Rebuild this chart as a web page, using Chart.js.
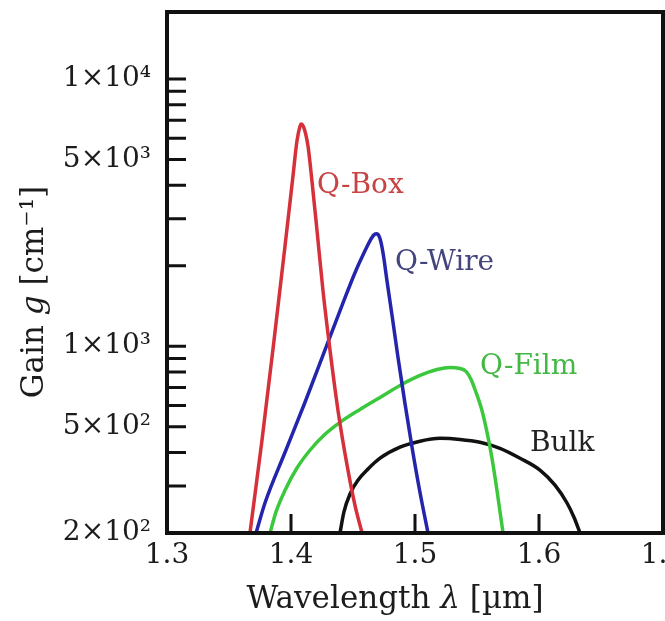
<!DOCTYPE html>
<html>
<head>
<meta charset="utf-8">
<script src="https://cdn.jsdelivr.net/npm/chart.js@4.4.0/dist/chart.umd.min.js"></script>
<style>
  html, body { margin: 0; background: #fff; }
</style>
</head>
<body>
<canvas id="gainChart" width="665" height="621"></canvas>
<script>
// tick values and labels
const xTicks = [1.3, 1.4, 1.5, 1.6, 1.7];
const yTicks = [200, 300, 400, 500, 600, 700, 800, 900, 1000, 2000, 3000, 4000, 5000, 6000, 7000, 8000, 9000, 10000];
const yTickLabels = { 200: '2×10²', 500: '5×10²', 1000: '1×10³', 5000: '5×10³', 10000: '1×10⁴' };

// curves
const boxX = [1.3669, 1.3766, 1.3863, 1.3952, 1.4016, 1.4048, 1.4073, 1.4081, 1.4105, 1.4137, 1.4169, 1.421, 1.4258, 1.4315, 1.4379, 1.4452, 1.4516, 1.4573];
const boxY = [200, 445, 1050, 2375, 4334, 5853, 6660, 6776, 6546, 5608, 4152, 2702, 1613, 963, 575, 359, 254, 200];

const wireX = [1.3718, 1.379, 1.3952, 1.4113, 1.4266, 1.4411, 1.4516, 1.4589, 1.4637, 1.4669, 1.4694, 1.4718, 1.4742, 1.4774, 1.4815, 1.4863, 1.4919, 1.4976, 1.504, 1.5105];
const wireY = [200, 259, 401, 617, 947, 1418, 1883, 2236, 2480, 2610, 2633, 2522, 2236, 1758, 1302, 907, 611, 419, 284, 200];

const filmX = [1.3831, 1.3879, 1.3952, 1.4048, 1.4153, 1.4274, 1.4395, 1.4556, 1.4718, 1.4879, 1.504, 1.5177, 1.5282, 1.5363, 1.5411, 1.5452, 1.5492, 1.554, 1.5581, 1.5621, 1.5661, 1.571];
const filmY = [200, 240, 289, 350, 408, 468, 519, 580, 643, 713, 777, 818, 833, 825, 805, 751, 672, 575, 476, 381, 289, 200];

const bulkX = [1.4395, 1.4427, 1.4476, 1.454, 1.4621, 1.4718, 1.4879, 1.504, 1.5202, 1.5363, 1.5524, 1.5685, 1.5847, 1.6008, 1.6129, 1.6226, 1.6282, 1.6331];
const bulkY = [200, 240, 280, 315, 347, 381, 419, 441, 452, 448, 437, 415, 381, 344, 302, 259, 229, 200];

const seriesNames = ['Q-Box', 'Q-Wire', 'Q-Film', 'Bulk'];
const labelX = [1.421, 1.4839, 1.5524, 1.5927];
const labelY = [3978, 2052, 840, 433];

const lineColors = ['#d6303a', '#2424ac', '#3cc83c', '#111111'];
const textColors = ['#c84444', '#45457e', '#44b844', '#222222'];
const serif = 'DejaVu Serif';

function toPoints(xs, ys) { return xs.map((x, i) => ({ x: x, y: ys[i] })); }

function drawMixed(ctx, parts, size) {
  // parts: [text, italic]; draws centred on the current origin
  let total = 0;
  parts.forEach(p => { ctx.font = (p[1] ? 'italic ' : '') + size + 'px "' + serif + '"'; total += ctx.measureText(p[0]).width; });
  let x = -total / 2;
  parts.forEach(p => {
    ctx.font = (p[1] ? 'italic ' : '') + size + 'px "' + serif + '"';
    ctx.fillText(p[0], x, 0);
    x += ctx.measureText(p[0]).width;
  });
}

const framePlugin = {
  id: 'frame',
  afterDatasetsDraw(chart) {
    const { ctx, chartArea: a, scales: { x, y } } = chart;
    ctx.save();
    ctx.strokeStyle = '#111';
    ctx.lineWidth = 3;
    ctx.beginPath();
    yTicks.forEach(v => { const p = y.getPixelForValue(v); ctx.moveTo(a.left, p); ctx.lineTo(a.left + 19, p); });
    xTicks.forEach(v => { const p = x.getPixelForValue(v); ctx.moveTo(p, a.bottom); ctx.lineTo(p, a.bottom - 19); });
    ctx.stroke();
    ctx.lineWidth = 4;
    ctx.strokeRect(a.left, a.top, a.right - a.left, a.bottom - a.top);

    // curve labels
    ctx.textAlign = 'left';
    ctx.textBaseline = 'middle';
    ctx.font = '28px "' + serif + '"';
    seriesNames.forEach((n, i) => {
      ctx.fillStyle = textColors[i];
      ctx.fillText(n, x.getPixelForValue(labelX[i]), y.getPixelForValue(labelY[i]));
    });

    // axis titles
    ctx.fillStyle = '#1c1c1c';
    ctx.save();
    ctx.translate(395, 600);
    drawMixed(ctx, [['Wavelength ', false], ['λ', true], [' [µm]', false]], 31);
    ctx.restore();
    ctx.save();
    ctx.translate(35, 292);
    ctx.rotate(-Math.PI / 2);
    drawMixed(ctx, [['Gain ', false], ['g', true], [' [cm⁻¹]', false]], 31);
    ctx.restore();
    ctx.restore();
  }
};

const tickFont = { family: serif, size: 28 };

new Chart(document.getElementById('gainChart'), {
  type: 'line',
  data: {
    datasets: [
      { label: 'Q-Box', data: toPoints(boxX, boxY) },
      { label: 'Q-Wire', data: toPoints(wireX, wireY) },
      { label: 'Q-Film', data: toPoints(filmX, filmY) },
      { label: 'Bulk', data: toPoints(bulkX, bulkY) }
    ].map((d, i) => Object.assign(d, {
      borderColor: lineColors[i],
      borderWidth: 3.5,
      pointRadius: 0,
      fill: false,
      cubicInterpolationMode: 'monotone'
    }))
  },
  options: {
    responsive: false,
    animation: false,
    layout: { padding: { left: 0, top: 12, right: 2, bottom: 0 } },
    plugins: { legend: { display: false }, tooltip: { enabled: false } },
    scales: {
      x: {
        type: 'linear',
        min: 1.3,
        max: 1.7,
        afterBuildTicks: s => { s.ticks = xTicks.map(v => ({ value: v })); },
        ticks: { callback: v => v.toFixed(1), font: tickFont, color: '#1c1c1c', padding: 6, autoSkip: false, maxRotation: 0 },
        grid: { display: false, drawTicks: false },
        border: { display: false },
        afterFit: s => { s.height = 88; s.paddingLeft = 0; s.paddingRight = 0; }
      },
      y: {
        type: 'logarithmic',
        min: 200,
        max: 17800,
        afterBuildTicks: s => { s.ticks = yTicks.map(v => ({ value: v })); },
        ticks: { callback: v => yTickLabels[v] || '', font: tickFont, color: '#1c1c1c', padding: 16, autoSkip: false },
        grid: { display: false, drawTicks: false },
        border: { display: false },
        afterFit: s => { s.width = 167; s.paddingTop = 0; s.paddingBottom = 0; }
      }
    }
  },
  plugins: [framePlugin]
});
</script>
</body>
</html>
